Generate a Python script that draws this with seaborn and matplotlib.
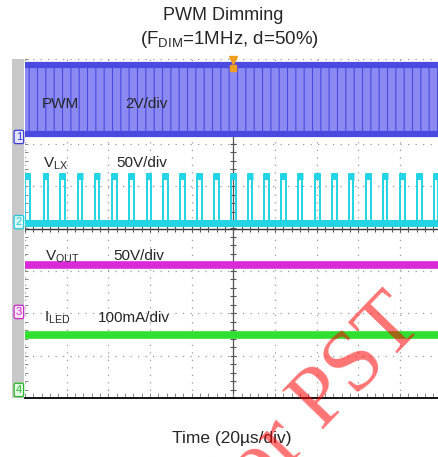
"""
PWM dimming scope capture: PWM, VLX, VOUT and ILED traces
"""

import matplotlib.pyplot as plt
import numpy as np
import seaborn as sns
import pandas as pd

sns.set_theme(style='white')
plt.rcParams['font.family'] = ['Liberation Sans', 'DejaVu Sans']
plt.rcParams['mathtext.fontset'] = 'custom'
plt.rcParams['mathtext.rm'] = 'Liberation Sans'
plt.rcParams['hatch.linewidth'] = 0.8

# Screen: time in us (20us/div, 10 div), vertical in divisions (8 div)
TIME_SPAN = [-100, 100]

# PWM (ch1, 2V/div): switching band between low and high level
PWM_LOW, PWM_HIGH = 2.22, 3.85

# VLX (ch2, 50V/div): centre time of each switching burst
VLX_PULSES = [-98.7, -90.0, -82.1, -73.6, -65.4, -57.1, -48.8, -40.5, -32.6,
              -24.5, -16.3, -8.0, 0.0, 8.0, 16.0, 24.0, 32.0, 40.3, 48.5,
              56.5, 64.8, 72.8, 81.3, 89.3, 97.3]
VLX_LOW, VLX_HIGH = 0.14, 1.29
VLX_WIDTH = 2.2

# VOUT (ch3, 50V/div) and ILED (ch4, 100mA/div) levels
VOUT_LEVEL = -0.86
ILED_LEVEL = -2.51

# Channel ground markers (division)
CHANNELS = ['1', '2', '3', '4']
CHANNEL_POS = [2.16, 0.15, -1.97, -3.81]
CHANNEL_COLORS = ['#3a3ad8', '#1ec8d8', '#c828c8', '#22b822']
CHANNEL_FILL = ['#e4e4ff', '#dcf8fa', '#fae4fa', '#e4fae4']

C_PWM_FILL = '#8a8af2'
C_PWM_EDGE = '#4a4ae0'
C_VLX = '#22d4e4'
C_VOUT = '#d82ad8'
C_ILED = '#30e030'

W, H = 439, 457
fig = plt.figure(figsize=(W / 100, H / 100), dpi=100)
ax = fig.add_axes([25 / W, 59 / H, 416.7 / W, 339 / H])
strip = fig.add_axes([12 / W, 59 / H, 12.5 / W, 339 / H])

# Grid
ax.set_xlim(TIME_SPAN)
ax.set_ylim(-4, 4)
ax.set_xticks(np.arange(-100, 101, 20))
ax.set_yticks(np.arange(-4, 5, 1))
ax.tick_params(length=0, labelbottom=False, labelleft=False)
ax.grid(True, color='#9a9a9a', linestyle=(0, (1, 5)), linewidth=0.9)
for side in ['top', 'left', 'right']:
    ax.spines[side].set_visible(False)
ax.spines['bottom'].set_color('black')
ax.spines['bottom'].set_linewidth(1.3)

# Centre cross with minor ticks
ax.axvline(0, color='#555555', lw=0.9, zorder=1)
ax.axhline(0, color='#333333', lw=1.0, zorder=1)
minor_t = np.arange(-100, 101, 4)
minor_y = np.arange(-4, 4.01, 0.2)
ax.plot(minor_t, np.zeros_like(minor_t), ls='none', marker='|', ms=4, color='#555555', mew=0.8)
ax.plot(np.zeros_like(minor_y), minor_y, ls='none', marker='_', ms=4, color='#555555', mew=0.8)
ax.plot(minor_t, np.full_like(minor_t, -3.93, dtype=float), ls='none', marker='|', ms=2.5, color='#888888', mew=0.7)
ax.plot(np.full_like(minor_y, -99.4), minor_y, ls='none', marker='_', ms=2.5, color='#888888', mew=0.7)

# PWM band
ax.fill_between(TIME_SPAN, [PWM_LOW] * 2, [PWM_HIGH] * 2, facecolor=C_PWM_FILL,
                edgecolor=C_PWM_EDGE, hatch='||', linewidth=0, zorder=2)
ax.hlines([PWM_LOW, PWM_HIGH], TIME_SPAN[0], TIME_SPAN[1], color=C_PWM_EDGE, lw=4.5, zorder=3)

# VLX pulses
vlx_t, vlx_v = [], []
for t in VLX_PULSES:
    vlx_t += [t - VLX_WIDTH / 2, t - VLX_WIDTH / 2, t + VLX_WIDTH / 2, t + VLX_WIDTH / 2]
    vlx_v += [VLX_LOW, VLX_HIGH, VLX_HIGH, VLX_LOW]
vlx = pd.DataFrame({'t': vlx_t, 'v': vlx_v})
sns.lineplot(data=vlx, x='t', y='v', sort=False, estimator=None, color=C_VLX, lw=1.4, ax=ax, zorder=3)
ax.hlines(VLX_LOW, TIME_SPAN[0], TIME_SPAN[1], color=C_VLX, lw=5, zorder=3)
ax.hlines([VLX_HIGH - 0.05] * len(VLX_PULSES), np.array(VLX_PULSES) - 1.2,
          np.array(VLX_PULSES) + 1.2, color=C_VLX, lw=5, zorder=3)

# VOUT and ILED
levels = pd.DataFrame({'t': TIME_SPAN * 2,
                       'v': [VOUT_LEVEL] * 2 + [ILED_LEVEL] * 2,
                       'ch': ['VOUT'] * 2 + ['ILED'] * 2})
sns.lineplot(data=levels, x='t', y='v', hue='ch', palette={'VOUT': C_VOUT, 'ILED': C_ILED},
             lw=5.5, legend=False, ax=ax, zorder=3)
ax.set_xlabel('')
ax.set_ylabel('')

# Trigger marker
ax.plot([0], [3.98], marker='v', color='#f0a020', ms=6, clip_on=False, zorder=6)
ax.plot([0], [3.78], marker='s', color='#f0a020', ms=4, clip_on=False, zorder=6)

# Channel labels
ax.text(-91.8, 2.84, 'PWM', fontsize=11, va='baseline', zorder=5)
ax.text(-52, 2.84, '2V/div', fontsize=11, va='baseline', zorder=5)
ax.text(-91.3, 1.45, r'V$_{\mathregular{LX}}$', fontsize=11, va='baseline', zorder=5)
ax.text(-56.3, 1.45, '50V/div', fontsize=11, va='baseline', zorder=5)
ax.text(-90.4, -0.74, r'V$_{\mathregular{OUT}}$', fontsize=11, va='baseline', zorder=5)
ax.text(-57.7, -0.74, '50V/div', fontsize=11, va='baseline', zorder=5)
ax.text(-90.9, -2.2, r'I$_{\mathregular{LED}}$', fontsize=11, va='baseline', zorder=5)
ax.text(-65, -2.2, '100mA/div', fontsize=11, va='baseline', zorder=5)

# Left strip with ground markers
strip.set_facecolor('#c8c8c8')
strip.set_xlim(0, 1)
strip.set_ylim(-4, 4)
strip.set_xticks([])
strip.set_yticks([])
for side in strip.spines:
    strip.spines[side].set_visible(False)
for name, pos, col, fill in zip(CHANNELS, CHANNEL_POS, CHANNEL_COLORS, CHANNEL_FILL):
    strip.text(0.55, pos, name, ha='center', va='center', fontsize=8, color=col,
               bbox=dict(boxstyle='round,pad=0.15', fc=fill, ec=col, lw=0.9))

# Titles
fig.text(223 / W, 1 - 15 / H, 'PWM Dimming', ha='center', va='center', fontsize=13)
fig.text(229 / W, 1 - 40 / H, r'(F$_{\mathregular{DIM}}$=1MHz, d=50%)', ha='center', va='center', fontsize=13.5)
fig.text(232 / W, 1 - 438 / H, 'Time (20µs/div)', ha='center', va='center', fontsize=12.5)

# Watermark
fig.text(316 / W, 1 - 408 / H, 'for PST', rotation=46, rotation_mode='anchor', fontsize=62,
         family='Liberation Serif', color='red', alpha=0.55, ha='center', va='center', zorder=10)

fig.savefig('out.png', dpi=100)
